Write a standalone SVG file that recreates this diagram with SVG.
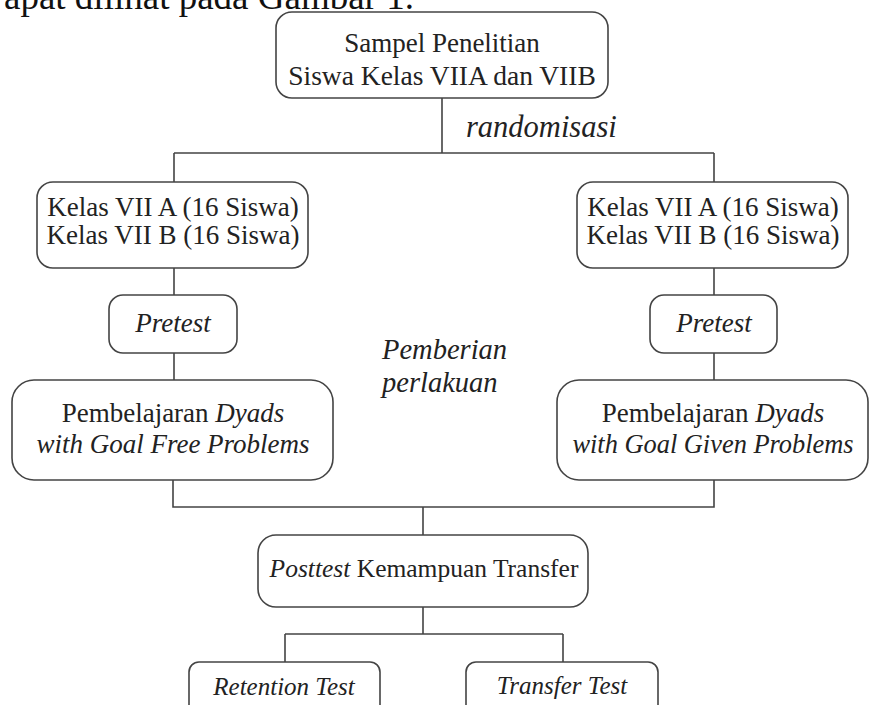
<svg xmlns="http://www.w3.org/2000/svg" width="869" height="705" viewBox="0 0 869 705" font-family="'Liberation Serif', 'Times New Roman', 'DejaVu Serif', serif">
<style>
.box{fill:#fff;stroke:#444;stroke-width:1.6}
.ln{fill:none;stroke:#444;stroke-width:1.6}
text{font-family:'Liberation Serif','Times New Roman',serif;font-size:27px;fill:#222}
.c{text-anchor:middle}
.i{font-style:italic}
</style>
<rect width="869" height="705" fill="#fff"/>
<text x="4" y="9" style="font-size:37px;fill:#111">apat dilihat pada Gambar 1.</text>
<g id="connectors">
<path class="ln" d="M442,98 V153 M174,153 H714 M174,153 V182 M714,153 V182"/>
<path class="ln" d="M174,268 V295 M174,353 V380 M714,268 V295 M714,353 V380"/>
<path class="ln" d="M173,480 V507 H714 V480 M423,507 V535"/>
<path class="ln" d="M423,607 V634 M285,634 H563 M285,634 V662 M563,634 V662"/>
</g>
<g id="sampel">
<rect class="box" x="276" y="12" width="332" height="86" rx="16"/>
<text class="c" x="442" y="52">Sampel Penelitian</text>
<text class="c" x="442" y="85" style="font-size:27.5px">Siswa Kelas VIIA dan VIIB</text>
</g>
<g id="randomisasi"><text class="i" x="466" y="137" style="font-size:30.5px">randomisasi</text></g>
<g id="kelas-kiri">
<rect class="box" x="37" y="182" width="271" height="86" rx="16"/>
<text class="c" x="173" y="216">Kelas VII A (16 Siswa)</text>
<text class="c" x="173" y="244">Kelas VII B (16 Siswa)</text>
</g>
<g id="kelas-kanan">
<rect class="box" x="577" y="182" width="271" height="86" rx="16"/>
<text class="c" x="713" y="216">Kelas VII A (16 Siswa)</text>
<text class="c" x="713" y="244">Kelas VII B (16 Siswa)</text>
</g>
<g id="pretest-kiri">
<rect class="box" x="109" y="295" width="128" height="58" rx="14"/>
<text class="c i" x="173" y="332">Pretest</text>
</g>
<g id="pretest-kanan">
<rect class="box" x="650" y="295" width="127" height="58" rx="14"/>
<text class="c i" x="714" y="332">Pretest</text>
</g>
<g id="perlakuan">
<text class="i" x="382" y="359" style="font-size:28.5px">Pemberian</text>
<text class="i" x="382" y="392" style="font-size:28.5px">perlakuan</text>
</g>
<g id="free">
<rect class="box" x="12" y="380" width="321" height="100" rx="22"/>
<text class="c" x="173" y="422">Pembelajaran <tspan class="i">Dyads</tspan></text>
<text class="c i" x="173" y="453">with Goal Free Problems</text>
</g>
<g id="given">
<rect class="box" x="557" y="380" width="311" height="100" rx="22"/>
<text class="c" x="713" y="422">Pembelajaran <tspan class="i">Dyads</tspan></text>
<text class="c i" x="713" y="453" style="font-size:26.4px">with Goal Given Problems</text>
</g>
<g id="posttest">
<rect class="box" x="258" y="535" width="330" height="72" rx="18"/>
<text class="c" x="424" y="577" style="font-size:25.5px"><tspan class="i">Posttest</tspan> Kemampuan Transfer</text>
</g>
<g id="retention">
<rect class="box" x="189" y="662" width="191" height="60" rx="10"/>
<text class="c i" x="284" y="695" style="font-size:25px">Retention Test</text>
</g>
<g id="transfer">
<rect class="box" x="466" y="662" width="192" height="60" rx="10"/>
<text class="c i" x="562" y="694" style="font-size:25px">Transfer Test</text>
</g>
</svg>
